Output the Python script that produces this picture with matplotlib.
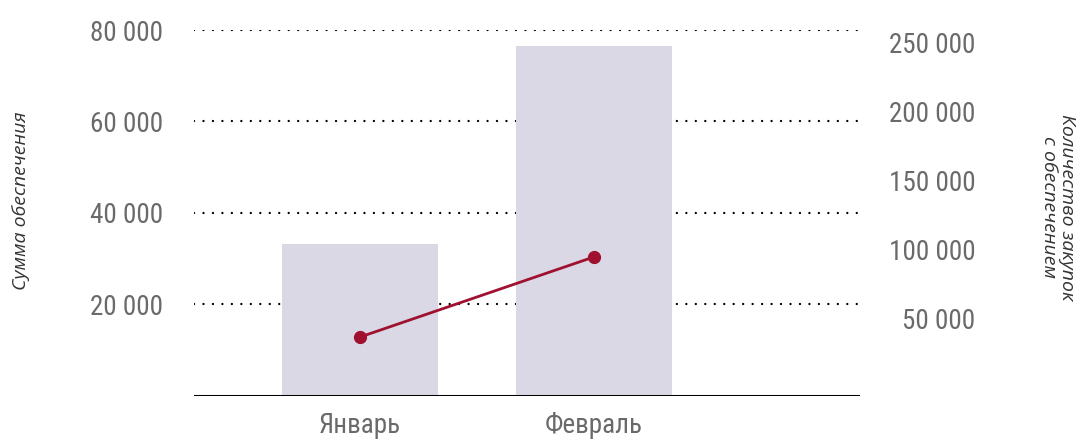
import numpy as np
import matplotlib.pyplot as plt
from matplotlib import font_manager as fm

# data
months = ['Январь', 'Февраль']
security_sum = [33100, 76400]          # bars, left axis
purchases_count = [36300, 94500]       # line, right axis

left_ticks = [20000, 40000, 60000, 80000]
right_ticks = [50000, 100000, 150000, 200000, 250000]

gray = '#6a6a6a'


def find_face(cond, prefer):
    """Pick a font file from the installed ones"""
    faces = [f for f in fm.fontManager.ttflist if cond(f)]
    for p in prefer:
        for f in faces:
            if p in f.name:
                return fm.FontProperties(fname=f.fname)
    if faces:
        return fm.FontProperties(fname=faces[0].fname)
    return None


def is_condensed(f):
    narrow = f.stretch in ('condensed', 'semi-condensed', 'extra-condensed') \
        or 'Narrow' in f.name or 'Condensed' in f.name
    return narrow and f.style == 'normal' and f.weight in (400, 'normal', 'regular')


def is_italic(f):
    narrow = f.stretch != 'normal' or 'Narrow' in f.name or 'Condensed' in f.name \
        or 'Condensed' in f.fname
    return f.style == 'italic' and not narrow \
        and f.weight in (300, 'light', 400, 'normal', 'regular')


tick_fp = find_face(is_condensed, ['Roboto', 'Open Sans', 'Liberation', 'Noto Sans', 'DejaVu'])
if tick_fp is None:
    tick_fp = fm.FontProperties(family='DejaVu Sans')
tick_fp.set_size(19.5)

title_fp = find_face(is_italic, ['Open Sans', 'Noto Sans', 'Lato', 'Roboto'])
if title_fp is None:
    title_fp = fm.FontProperties(family='DejaVu Sans', style='italic')
title_fp.set_size(14)


def fmt(v):
    return f'{v:,}'.replace(',', ' ')


fig = plt.figure(figsize=(10.81, 4.40), dpi=100)
ax = fig.add_axes([0.1795, 0.1011, 0.616, 0.8307])

x = np.arange(len(months))
ax.bar(x, security_sum, width=0.667, color='#dad8e5', zorder=2)
ax.set_xlim(-0.709, 2.137)
ax.set_ylim(0, 80000)

for v in left_ticks:
    ax.axhline(v, color='black', linestyle=(0, (0.01, 4.0)), linewidth=1.7,
               dash_capstyle='round', zorder=1)
ax.axhline(0, color='black', linewidth=2.2, zorder=3)

ax.set_yticks(left_ticks)
ax.set_yticklabels([fmt(v) for v in left_ticks], fontproperties=tick_fp, color=gray)
ax.set_xticks(x)
ax.set_xticklabels(months, fontproperties=tick_fp, color=gray)
ax.tick_params(axis='both', length=0)
ax.tick_params(axis='y', pad=22)
ax.tick_params(axis='x', pad=12)
for s in ax.spines.values():
    s.set_visible(False)

ax2 = ax.twinx()
ax2.plot(x, purchases_count, color='#a0102f', linewidth=2, marker='o',
         markersize=8.5, zorder=4)
ax2.set_ylim(-6180, 259400)
ax2.set_yticks(right_ticks)
ax2.set_yticklabels([fmt(v) for v in right_ticks], fontproperties=tick_fp,
                    color=gray, ha='right')
ax2.tick_params(axis='y', length=0, pad=83)
for s in ax2.spines.values():
    s.set_visible(False)

fig.text(0.019, 0.545, 'Сумма обеспечения', rotation=90, fontproperties=title_fp,
         color='#333333', ha='center', va='center')
fig.text(0.979, 0.53, 'Количество закупок\nс обеспечением', rotation=-90,
         fontproperties=title_fp, color='#333333',
         ha='center', va='center', multialignment='center', linespacing=1.0)

fig.savefig('out.png', dpi=100)
